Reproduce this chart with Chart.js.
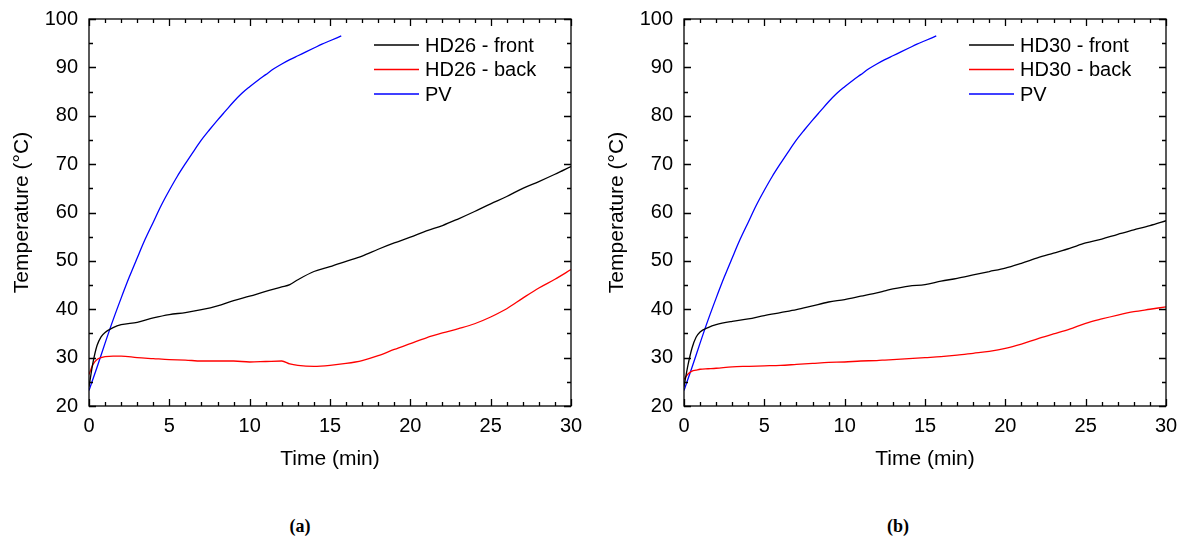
<!DOCTYPE html>
<html>
<head>
<meta charset="utf-8">
<script src="https://cdn.jsdelivr.net/npm/chart.js@4.4.1/dist/chart.umd.min.js"></script>
<style>
  body { margin: 0; background: #fff; width: 1182px; height: 540px; position: relative; overflow: hidden; }
  .panel { position: absolute; top: 0; width: 595px; height: 480px; }
  .cap { position: absolute; top: 516px; width: 60px; text-align: center; line-height: 22px;
         font: bold 18px 'Liberation Serif', 'DejaVu Serif', serif; color: #000; }
</style>
</head>
<body>
<div class="panel" style="left:0"><canvas id="chartA" width="595" height="480"></canvas></div>
<div class="panel" style="left:595px"><canvas id="chartB" width="595" height="480"></canvas></div>
<div class="cap" style="left:270px">(a)</div>
<div class="cap" style="left:868px">(b)</div>
<script>
// time axis (min) for the HD sensors
const timeHD = [0, 0.25, 0.5, 0.75, 1, 1.5, 2, 3, 4, 5, 6, 7, 8, 9, 10, 11, 12, 12.5, 13, 14, 15,
                16, 17, 18, 19, 20, 21, 22, 23, 24, 25, 26, 27, 28, 29, 30];
// time axis (min) for the PV panel
const timePV = [0, 0.5, 1, 1.5, 2, 2.5, 3, 3.5, 4, 4.5, 5, 5.5, 6, 6.5, 7, 7.5, 8, 8.5, 9, 9.5,
                10, 10.5, 11, 11.5, 12, 12.5, 13, 13.5, 14, 14.5, 15, 15.7];

// temperatures (°C)
const hd26Front = [24.0, 29.0, 32.5, 34.3, 35.2, 36.2, 36.8, 37.3, 38.2, 38.9, 39.3, 39.9, 40.7, 41.8, 42.7, 43.7, 44.6, 45.1, 46.1, 47.8, 48.8,
                   49.9, 51.0, 52.4, 53.7, 54.9, 56.2, 57.3, 58.7, 60.2, 61.8, 63.3, 65.0, 66.4, 67.9, 69.5];
const hd26Back = [26.5, 28.6, 29.6, 30.0, 30.2, 30.3, 30.3, 30.0, 29.8, 29.6, 29.5, 29.3, 29.3, 29.3, 29.1, 29.2, 29.3, 28.7, 28.4, 28.2, 28.4,
                  28.8, 29.4, 30.4, 31.7, 32.9, 34.1, 35.1, 36.0, 37.0, 38.4, 40.1, 42.3, 44.4, 46.2, 48.2];
const hd30Front = [24.0, 28.5, 32.0, 34.2, 35.3, 36.2, 36.8, 37.5, 38.0, 38.7, 39.3, 39.9, 40.7, 41.5, 42.0, 42.7, 43.4, 43.8, 44.2, 44.8, 45.1,
                   45.8, 46.4, 47.1, 47.8, 48.5, 49.5, 50.6, 51.6, 52.6, 53.7, 54.5, 55.5, 56.4, 57.3, 58.3];
const hd30Back = [25.5, 26.6, 27.2, 27.4, 27.6, 27.7, 27.8, 28.1, 28.2, 28.3, 28.4, 28.6, 28.8, 29.0, 29.1, 29.3, 29.4, 29.5, 29.6, 29.8, 30.0,
                  30.2, 30.5, 30.9, 31.3, 31.9, 32.8, 33.9, 34.9, 35.9, 37.1, 38.0, 38.8, 39.5, 40.0, 40.5];
const pvTemp = [23.2, 28.0, 33.0, 37.8, 42.3, 46.6, 50.6, 54.5, 58.0, 61.5, 64.6, 67.5, 70.1, 72.6, 75.0, 77.1, 79.1, 81.0, 82.9, 84.6,
                86.0, 87.3, 88.5, 89.7, 90.7, 91.6, 92.4, 93.2, 94.0, 94.8, 95.5, 96.5];

Chart.defaults.font.family = "'Liberation Sans', Arial, sans-serif";
Chart.defaults.color = '#000';

const toXY = (xs, ys) => xs.map((x, i) => ({ x, y: ys[i] }));

// box around the plot with inward major/minor ticks on all four sides
const frameTicks = {
  id: 'frameTicks',
  afterDraw(chart) {
    const { ctx, chartArea: a, scales: { x, y } } = chart;
    ctx.save();
    ctx.strokeStyle = '#000';
    ctx.lineWidth = 1.3;
    ctx.strokeRect(a.left, a.top, a.right - a.left, a.bottom - a.top);
    ctx.beginPath();
    for (let t = x.min; t <= x.max; t += 1) {
      const px = Math.round(x.getPixelForValue(t)) + 0.5;
      const len = t % 5 === 0 ? 7 : 4;
      ctx.moveTo(px, a.bottom); ctx.lineTo(px, a.bottom - len);
      ctx.moveTo(px, a.top); ctx.lineTo(px, a.top + len);
    }
    for (let v = y.min; v <= y.max; v += 5) {
      const py = Math.round(y.getPixelForValue(v)) + 0.5;
      const len = v % 10 === 0 ? 7 : 4;
      ctx.moveTo(a.left, py); ctx.lineTo(a.left + len, py);
      ctx.moveTo(a.right, py); ctx.lineTo(a.right - len, py);
    }
    ctx.stroke();
    ctx.restore();
  }
};

// legend drawn inside the plot, upper right
const insideLegend = {
  id: 'insideLegend',
  afterDatasetsDraw(chart) {
    const { ctx, chartArea: a } = chart;
    const x0 = a.left + 285;
    ctx.save();
    ctx.font = "20px 'Liberation Sans', Arial, sans-serif";
    ctx.textBaseline = 'middle';
    ctx.fillStyle = '#000';
    chart.data.datasets.forEach((ds, i) => {
      const yy = a.top + 26 + i * 24.5;
      ctx.strokeStyle = ds.borderColor;
      ctx.lineWidth = 1.3;
      ctx.beginPath();
      ctx.moveTo(x0, yy); ctx.lineTo(x0 + 45, yy);
      ctx.stroke();
      ctx.fillText(ds.label, x0 + 51, yy + 1);
    });
    ctx.restore();
  }
};

function makeChart(id, name, front, back) {
  const line = (label, color, xs, ys) => ({
    label, data: toXY(xs, ys), borderColor: color, borderWidth: 1.3,
    pointRadius: 0, cubicInterpolationMode: 'monotone', fill: false
  });
  return new Chart(document.getElementById(id), {
    type: 'line',
    data: {
      datasets: [
        line(name + ' - front', '#000000', timeHD, front),
        line(name + ' - back', '#ff0000', timeHD, back),
        line('PV', '#0000ff', timePV, pvTemp)
      ]
    },
    options: {
      responsive: false,
      animation: false,
      layout: { padding: { top: 19, right: 24, left: 0, bottom: 0 } },
      plugins: { legend: { display: false }, tooltip: { enabled: false } },
      scales: {
        x: {
          type: 'linear', min: 0, max: 30,
          grid: { display: false, drawTicks: false },
          border: { display: false },
          ticks: { stepSize: 5, padding: 8, font: { size: 20 } },
          title: { display: true, text: 'Time (min)', font: { size: 21 }, padding: { top: 0, bottom: 8 } },
          afterFit: s => { s.height = 74; s.paddingLeft = 0; s.paddingRight = 0; }
        },
        y: {
          min: 20, max: 100,
          grid: { display: false, drawTicks: false },
          border: { display: false },
          ticks: { stepSize: 10, padding: 11, font: { size: 20 } },
          title: { display: true, text: 'Temperature (°C)', font: { size: 21 }, padding: { top: 10, bottom: 0 } },
          afterFit: s => { s.width = 89; s.paddingTop = 0; s.paddingBottom = 0; }
        }
      }
    },
    plugins: [frameTicks, insideLegend]
  });
}

makeChart('chartA', 'HD26', hd26Front, hd26Back);
makeChart('chartB', 'HD30', hd30Front, hd30Back);
</script>
</body>
</html>
